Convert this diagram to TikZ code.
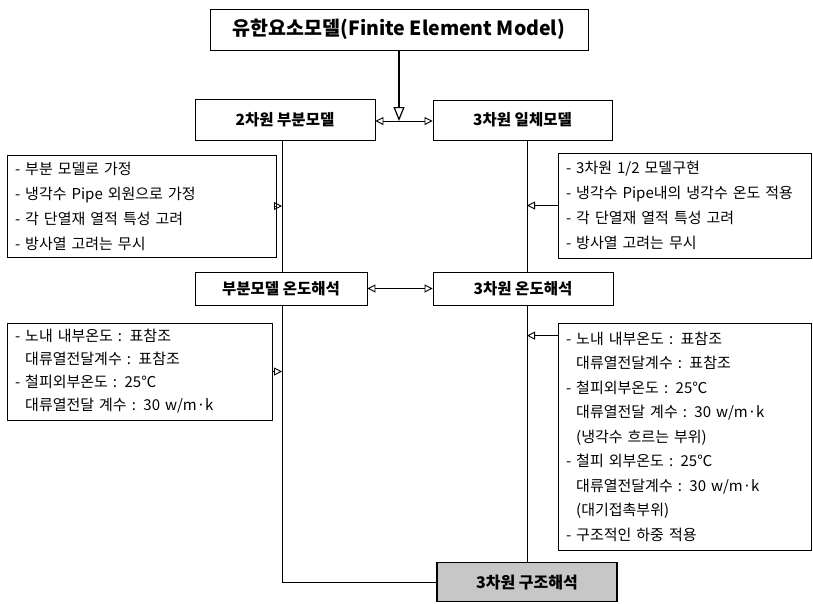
\documentclass[tikz,border=0pt]{standalone}
\usepackage{fontspec}
\setmainfont{Noto Sans CJK KR}
\usetikzlibrary{arrows.meta}
\begin{document}
\begin{tikzpicture}[x=1pt,y=-1pt,
  box/.style={draw,line width=0.9pt,rectangle,inner sep=0pt,font=\bfseries\fontsize{15.5}{18}\selectfont},
  listbox/.style={draw,line width=0.8pt,rectangle,inner xsep=8pt,inner ysep=0pt,align=left,font=\fontsize{15}{25}\selectfont},
  tip/.style={-{Triangle[open,length=8pt,width=8pt,line width=0.9pt]},line width=0.8pt},
  bitip/.style={{Triangle[open,length=8pt,width=8pt,line width=0.9pt]}-{Triangle[open,length=8pt,width=8pt,line width=0.9pt]},line width=0.8pt},
  ln/.style={line width=0.8pt},
]
\useasboundingbox (0,0) rectangle (813,603);
\node[box,minimum width=378pt,minimum height=41pt,font=\bfseries\fontsize{19.5}{22}\selectfont] (top) at (399,29.5) {유한요소모델(Finite Element Model)};
\node[box,minimum width=180pt,minimum height=41pt] (b2d) at (285,119.5) {2차원 부분모델};
\node[box,minimum width=179pt,minimum height=40pt] (b3d) at (522.5,120) {3차원 일체모델};
\node[box,minimum width=172pt,minimum height=33pt] (t2d) at (281,288.5) {부분모델 온도해석};
\node[box,minimum width=180pt,minimum height=33pt] (t3d) at (523,288.5) {3차원 온도해석};
\node[box,minimum width=180pt,minimum height=39pt,fill=black!22,line width=1.1pt,font=\bfseries\fontsize{16}{18}\selectfont] (s) at (527,582) {3차원 구조해석};

\node[listbox,text width=253pt,minimum height=102pt] (l1) at (141.5,206) {- 부분 모델로 가정\\- 냉각수 Pipe 외원으로 가정\\- 각 단열재 열적 특성 고려\\- 방사열 고려는 무시};
\node[listbox,text width=237.5pt,minimum height=105pt] (r1) at (684.75,205.5) {- 3차원 1/2 모델구현\\- 냉각수 Pipe내의 냉각수 온도 적용\\- 각 단열재 열적 특성 고려\\- 방사열 고려는 무시};
\node[listbox,text width=249pt,minimum height=97pt,font=\fontsize{15}{23}\selectfont] (l2) at (139.5,371.5) {- 노내 내부온도 : 표참조\\\phantom{- }대류열전달계수 : 표참조\\- 철피외부온도 : 25℃\\\phantom{- }대류열전달 계수 : 30 w/m·k};
\node[listbox,text width=237.5pt,minimum height=227pt,font=\fontsize{15}{24.5}\selectfont] (r2) at (684.75,436.5) {- 노내 내부온도 : 표참조\\\phantom{- }대류열전달계수 : 표참조\\- 철피외부온도 : 25℃\\\phantom{- }대류열전달 계수 : 30 w/m·k\\\phantom{- }(냉각수 흐르는 부위)\\- 철피 외부온도 : 25℃\\\phantom{- }대류열전달계수 : 30 w/m·k\\\phantom{- }(대기접촉부위)\\- 구조적인 하중 적용};

\coordinate (m1) at (399,121);
\coordinate (lv) at (282,0);
\coordinate (rv) at (527,0);

\draw[bitip] (b2d.east |- m1) -- (b3d.west |- m1);
\draw[line width=2.6pt,-{Triangle[open,length=14pt,width=11pt,line width=1.2pt]}] (top.south) -- (m1);
\draw[ln] (b2d.south -| lv) -- (t2d.north -| lv);
\draw[ln] (b3d.south -| rv) -- (t3d.north -| rv);
\draw[tip] (l1.east) -- (l1.east -| lv);
\draw[tip] (r1.west) -- (r1.west -| rv);
\draw[bitip] (t2d.east) -- (t3d.west);
\draw[ln] (t2d.south -| lv) |- (s.west);
\draw[tip] (l2.east) -- (l2.east -| lv);
\draw[ln] (t3d.south -| rv) -- (s.north);
\draw[tip] ([yshift=-13pt]r2.north west) -- ([yshift=-13pt]r2.north west -| rv);
\end{tikzpicture}
\end{document}
